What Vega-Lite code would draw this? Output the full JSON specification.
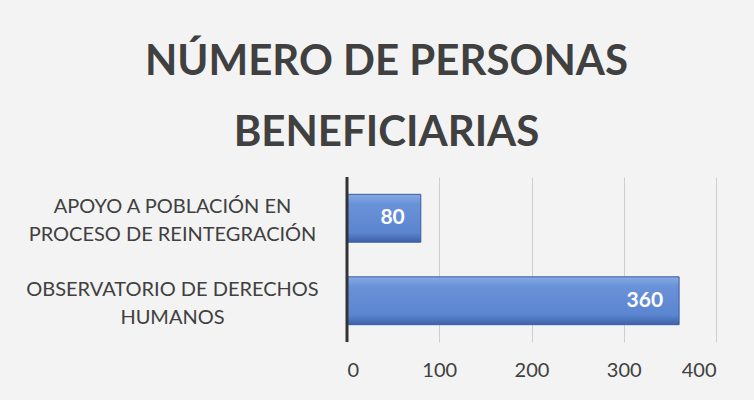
{
  "$schema": "https://vega.github.io/schema/vega-lite/v6.json",
  "autosize": {"type": "none"},
  "width": 369,
  "height": 165,
  "padding": {"left": 347, "top": 177, "right": 38, "bottom": 58},
  "background": "#f3f3f3",
  "title": {
    "text": ["NÚMERO DE PERSONAS", "BENEFICIARIAS"],
    "font": "Lato",
    "fontSize": 42,
    "fontWeight": "bold",
    "color": "#404040",
    "lineHeight": 71,
    "anchor": "middle",
    "dx": -145,
    "offset": 21
  },
  "data": {
    "values": [
      {"programa": "APOYO A POBLACIÓN EN|PROCESO DE REINTEGRACIÓN", "personas": 80},
      {"programa": "OBSERVATORIO DE DERECHOS|HUMANOS", "personas": 360}
    ]
  },
  "config": {
    "view": {"stroke": null},
    "font": "Lato"
  },
  "encoding": {
    "y": {
      "field": "programa",
      "type": "nominal",
      "sort": null,
      "title": null,
      "scale": {"paddingInner": 0.42, "paddingOuter": 0.21},
      "axis": {
        "labelExpr": "split(datum.label, '|')",
        "labelAlign": "center",
        "labelPadding": 175,
        "labelOffset": -11,
        "labelLimit": 400,
        "labelFontSize": 20,
        "labelColor": "#404040",
        "labelLineHeight": 28,
        "ticks": false,
        "domain": false
      }
    },
    "x": {
      "field": "personas",
      "type": "quantitative",
      "title": null,
      "scale": {"domain": [0, 400]},
      "axis": {
        "values": [0, 100, 200, 300, 400],
        "labelFontSize": 20,
        "labelColor": "#404040",
        "labelPadding": 18,
        "ticks": false,
        "domain": false,
        "gridColor": "#cfcfcf",
        "gridWidth": 1
      }
    }
  },
  "layer": [
    {
      "mark": {
        "type": "bar",
        "color": {
          "gradient": "linear",
          "x1": 0, "y1": 0, "x2": 0, "y2": 1,
          "stops": [
            {"offset": 0, "color": "#86a9e4"},
            {"offset": 0.2, "color": "#6a92d8"},
            {"offset": 0.8, "color": "#5b85d0"},
            {"offset": 1, "color": "#3d62a8"}
          ]
        },
        "stroke": "#3b5d9e",
        "strokeWidth": 1
      }
    },
    {
      "mark": {"type": "text", "align": "right", "dx": -16, "fontSize": 21, "fontWeight": "bold", "color": "white", "font": "Lato"},
      "encoding": {"text": {"field": "personas", "type": "quantitative"}}
    },
    {
      "data": {"values": [{"personas": 0}]},
      "mark": {"type": "rule", "color": "#333333", "strokeWidth": 3},
      "encoding": {"x": {"field": "personas", "type": "quantitative"}, "y": {"value": 0}, "y2": {"value": 165}}
    }
  ]
}
